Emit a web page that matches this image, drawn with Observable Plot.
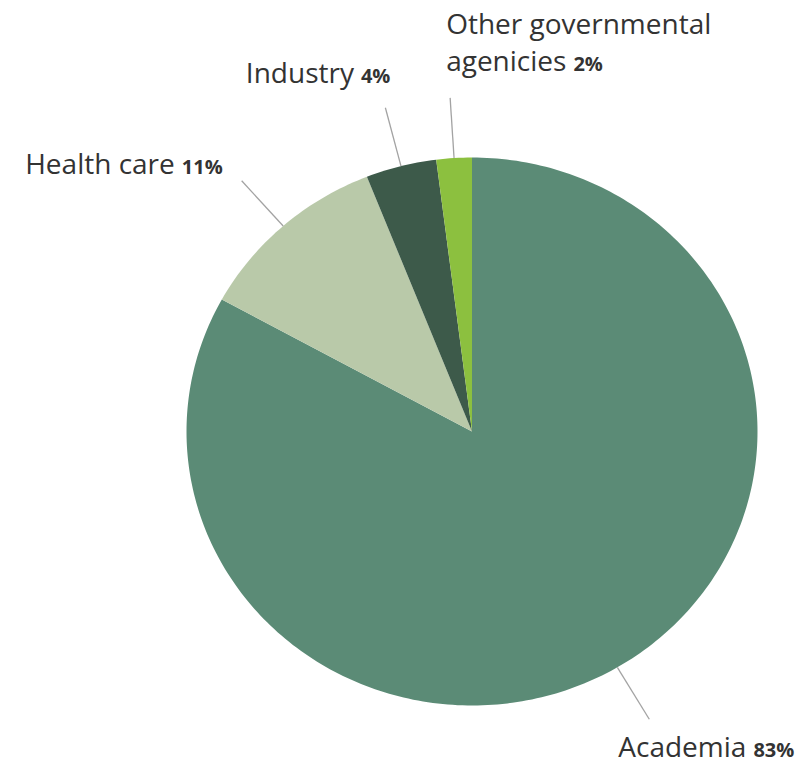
<!DOCTYPE html>
<html>
<head>
<meta charset="utf-8">
<script src="https://cdn.jsdelivr.net/npm/d3@7"></script>
<script src="https://cdn.jsdelivr.net/npm/@observablehq/plot@0.6"></script>
<style>
  html, body { margin: 0; padding: 0; background: #ffffff; }
  #chart svg { display: block; overflow: visible; }
</style>
</head>
<body>
<div id="chart"></div>
<script>
// ---- data ----
const categories = ["Academia", "Health care", "Industry", "Other governmental agenicies"];
const labels = ["Academia", "Health care", "Industry", "Other governmental\nagenicies"];
const shares = [83, 11, 4, 2];
const pctLabels = ["83%", "11%", "4%", "2%"];
const colors = ["#5b8b76", "#b9c9a9", "#3d5a4a", "#8cc03f"];

// label placement relative to the end of each leader line (pixels)
const placement = [
  {anchor: "start", dx: -31, dy: 38},
  {anchor: "end", dx: -19, dy: -7},
  {anchor: "end", dx: 5, dy: -25},
  {anchor: "start", dx: -4, dy: -27}
];

// ---- pie geometry from data ----
const total = d3.sum(shares);
let cum = 0;
const slices = shares.map((v, i) => {
  const a0 = cum / total * 2 * Math.PI;
  cum += v;
  const a1 = cum / total * 2 * Math.PI;
  return {i, a0, a1, mid: (a0 + a1) / 2};
});
const slicePts = [];
for (const s of slices) {
  const n = Math.max(2, Math.ceil((s.a1 - s.a0) * 180 / Math.PI));
  slicePts.push({cat: categories[s.i], x: 0, y: 0});
  for (let k = 0; k <= n; ++k) {
    const a = s.a0 + (s.a1 - s.a0) * k / n;
    slicePts.push({cat: categories[s.i], x: Math.sin(a), y: Math.cos(a)});
  }
}
const r0 = 1.0, r1 = 1.22;
const leaders = slices.map(s => ({
  cat: categories[s.i],
  x1: r0 * Math.sin(s.mid), y1: r0 * Math.cos(s.mid),
  x2: r1 * Math.sin(s.mid), y2: r1 * Math.cos(s.mid)
}));

const font = "'Open Sans', 'Noto Sans', sans-serif";

const marks = [
  Plot.line(slicePts, {
    x: "x", y: "y", z: "cat",
    fill: "cat", stroke: "none", curve: "linear"
  }),
  Plot.link(leaders, {
    x1: "x1", y1: "y1", x2: "x2", y2: "y2",
    stroke: "#a3a3a3", strokeWidth: 1.3
  })
];
leaders.forEach((l, i) => {
  marks.push(Plot.text([l], {
    x: "x2", y: "y2",
    text: () => labels[i],
    textAnchor: placement[i].anchor,
    lineAnchor: "bottom",
    dx: placement[i].dx, dy: placement[i].dy,
    fontSize: 28,
    lineHeight: 1.32,
    fontFamily: font,
    fill: "#333333"
  }));
});

const chart = Plot.plot({
  width: 805,
  height: 771,
  marginLeft: 186,
  marginRight: 48,
  marginTop: 157,
  marginBottom: 66,
  x: {domain: [-1, 1], axis: null},
  y: {domain: [-1, 1], axis: null},
  color: {domain: categories, range: colors},
  style: {background: "#ffffff", fontFamily: font, overflow: "visible"},
  marks
});

// append bold percentages after each label
const textGroups = d3.select(chart).selectAll("g[aria-label='text']").nodes();
textGroups.forEach((g, i) => {
  const t = d3.select(g).select("text");
  const tsp = t.selectAll("tspan").nodes();
  const host = tsp.length ? d3.select(tsp[tsp.length - 1]) : t;
  host.append("tspan")
    .attr("dx", 7)
    .attr("font-weight", 700)
    .attr("font-size", 20)
    .text(pctLabels[i]);
});

document.getElementById("chart").appendChild(chart);
</script>
</body>
</html>
